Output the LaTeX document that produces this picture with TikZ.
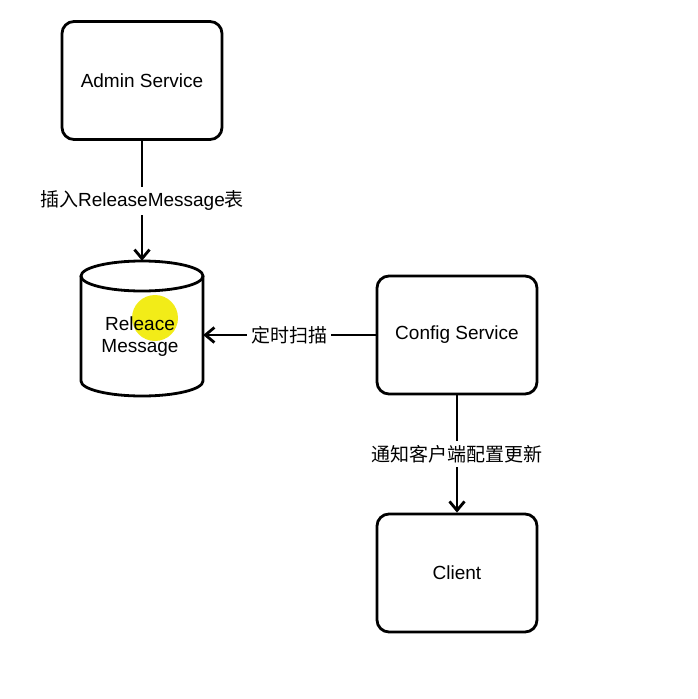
\documentclass[tikz,border=0pt]{standalone}
\usepackage{fontspec}
\setmainfont{Liberation Sans}
\newfontfamily\cjk{Noto Sans CJK SC}
\usetikzlibrary{arrows.meta}
\definecolor{hl}{RGB}{242,236,24}
\tikzset{
  box/.style={draw, line width=2.8pt, rounded corners=12pt, minimum width=160pt, minimum height=118pt, font=\fontsize{19}{23}\selectfont},
  arr/.style={line width=2.8pt, -{Straight Barb[length=9pt,width=15pt]}},
  lbl/.style={fill=white, inner sep=4pt, font=\fontsize{19}{23}\selectfont}
}
\begin{document}
\begin{tikzpicture}[x=1pt,y=1pt]
\useasboundingbox (0,0) rectangle (698,-699);
\node[box] (admin) at (142,-80.5) {Admin Service};
\node[box] (config) at (457,-335) {Config Service};
\node[box] (client) at (457,-573) {Client};
% cylinder
\draw[line width=2.8pt] (81,-276) -- (81,-381) arc[start angle=180,end angle=360,x radius=61,y radius=15] -- (203,-276);
\draw[line width=2.8pt] (142,-276) ellipse [x radius=61, y radius=15];
\fill[hl] (155,-318) circle (23);
\node[draw=none, minimum width=122pt, minimum height=135pt] (rm) at (142,-328.5) {};
\node[align=center, font=\fontsize{19}{22}\selectfont] (rmtext) at (140,-337) {Releace\\Message};
\draw[arr] (admin.south) -- node[lbl]{{\cjk 插入}ReleaseMessage{\cjk 表}} (rm.north);
\draw[arr] (config.west) -- node[lbl]{\cjk 定时扫描} (config.west -| rm.east);
\draw[arr] (config.south) -- node[lbl]{\cjk 通知客户端配置更新} (client.north);
\end{tikzpicture}
\end{document}
